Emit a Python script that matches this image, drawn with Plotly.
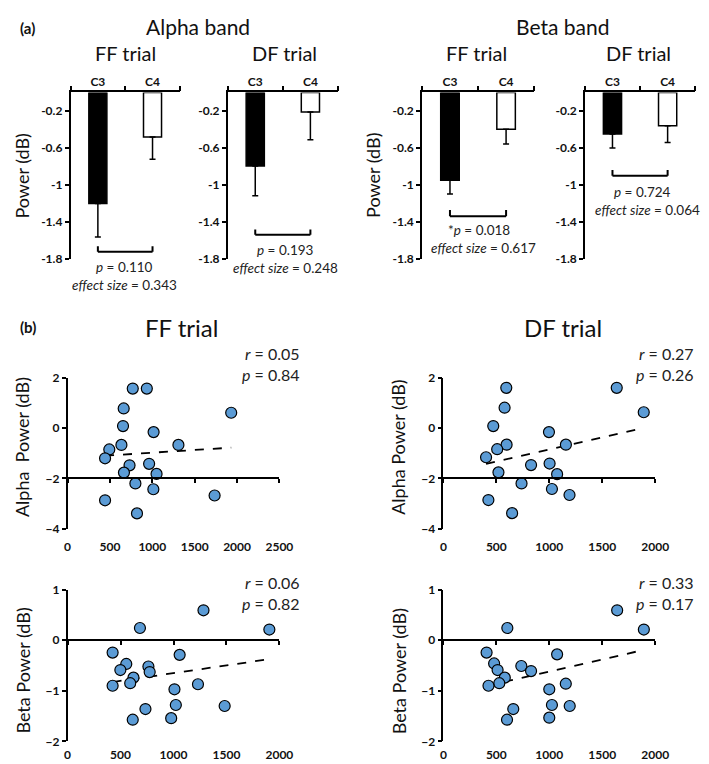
import numpy as np
import plotly.graph_objects as go

W, H = 709, 764
FONT = "Lato"

# ---------------- data: panel (a) bar charts ----------------
channels = ["C3", "C4"]
alpha_ff_mean = [-1.20, -0.48]
alpha_ff_err = [0.36, 0.24]
alpha_df_mean = [-0.795, -0.21]
alpha_df_err = [0.32, 0.30]
beta_ff_mean = [-0.947, -0.396]
beta_ff_err = [0.15, 0.16]
beta_df_mean = [-0.449, -0.36]
beta_df_err = [0.15, 0.18]
bar_tickvals = [-0.2, -0.6, -1, -1.4, -1.8]
bar_ticktext = ["-0.2", "-0.6", "-1", "-1.4", "-1.8"]
bracket_levels = [-1.72, -1.537, -1.336, -0.90]
bracket_tips = [-1.66, -1.48, -1.27, -0.837]
p_texts = ["<i>p</i> = 0.110", "<i>p</i> = 0.193", "*<i>p</i> = 0.018", "<i>p</i> = 0.724"]
es_texts = ["<i>effect size</i> = 0.343", "<i>effect size</i> = 0.248",
            "<i>effect size</i> = 0.617", "<i>effect size</i> = 0.064"]

# ---------------- data: panel (b) scatter plots ----------------
alpha_ff_x = [769, 935, 662, 1931, 654, 1015, 635, 1308, 492, 442, 731, 962, 665, 1050, 800, 1012, 442, 1735, 819]
alpha_ff_y = [1.57, 1.57, 0.78, 0.61, 0.08, -0.16, -0.67, -0.67, -0.85, -1.20, -1.48, -1.42, -1.77, -1.82, -2.20, -2.43, -2.87, -2.68, -3.39]
alpha_df_x = [594, 1637, 578, 1892, 471, 997, 597, 1157, 508, 403, 828, 1003, 520, 1074, 738, 1025, 425, 1191, 649]
alpha_df_y = [1.60, 1.60, 0.81, 0.63, 0.08, -0.16, -0.66, -0.66, -0.84, -1.16, -1.47, -1.41, -1.76, -1.83, -2.20, -2.42, -2.86, -2.66, -3.38]
beta_ff_x = [1283, 683, 1905, 425, 1058, 554, 763, 498, 775, 622, 591, 1231, 425, 1009, 1022, 1483, 735, 978, 615]
beta_ff_y = [0.59, 0.24, 0.21, -0.245, -0.29, -0.47, -0.52, -0.59, -0.63, -0.74, -0.85, -0.87, -0.90, -0.97, -1.28, -1.30, -1.36, -1.54, -1.57]
beta_df_x = [1641, 604, 1893, 408, 1074, 479, 736, 512, 828, 580, 528, 1156, 426, 1000, 1025, 1193, 660, 1000, 601]
beta_df_y = [0.59, 0.24, 0.21, -0.245, -0.28, -0.46, -0.51, -0.59, -0.61, -0.74, -0.85, -0.86, -0.90, -0.97, -1.28, -1.30, -1.36, -1.53, -1.57]
r_texts = ["<i>r</i> = 0.05<br><i>p</i> = 0.84", "<i>r</i> = 0.27<br><i>p</i> = 0.26",
           "<i>r</i> = 0.06<br><i>p</i> = 0.82", "<i>r</i> = 0.33<br><i>p</i> = 0.17"]
alpha_yticks = [2, 0, -2, -4]
beta_yticks = [1, 0, -1, -2]


def fx(px):
    return px / W


def fy(py):
    return 1 - py / H


fig = go.Figure()
layout = dict(width=W, height=H, margin=dict(l=0, r=0, t=0, b=0),
              paper_bgcolor="white", plot_bgcolor="white", showlegend=False,
              font=dict(family=FONT, color="black"))
annotations = []
shapes = []
TICKFONT = dict(size=12, family=FONT, weight="bold", color="#111")

# ---------- bar subplots ----------
bar_sets = [(alpha_ff_mean, alpha_ff_err), (alpha_df_mean, alpha_df_err),
            (beta_ff_mean, beta_ff_err), (beta_df_mean, beta_df_err)]
bar_xdom = [(61, 173), (222, 335), (421, 536), (588, 701)]
bar_ydom = (78, 248)
p_pos = [(116, 256), (281, 239), (479, 218), (647, 180)]
es_pos = [(116, 274), (281, 257), (484, 237), (652, 198)]

for i, (means, errs) in enumerate(bar_sets):
    n = i + 1
    xa, ya = ("x" if n == 1 else f"x{n}"), ("y" if n == 1 else f"y{n}")
    fig.add_trace(go.Bar(
        x=channels, y=means, width=0.33, xaxis=xa, yaxis=ya,
        marker=dict(color=["black", "white"], line=dict(color="black", width=1.5)),
        error_y=dict(type="data", symmetric=False, array=[0, 0], arrayminus=errs,
                     color="black", thickness=1.5, width=3),
    ))
    layout[f"xaxis{'' if n == 1 else n}"] = dict(
        domain=[fx(bar_xdom[i][0]), fx(bar_xdom[i][1])], anchor=ya, type="category",
        side="top", showline=True, linecolor="black", linewidth=1.5, ticks="outside",
        tickson="boundaries", ticklen=5, tickwidth=1.5, tickcolor="black",
        tickfont=TICKFONT, showgrid=False, zeroline=False, fixedrange=True)
    layout[f"yaxis{'' if n == 1 else n}"] = dict(
        domain=[fy(bar_ydom[1]), fy(bar_ydom[0])], anchor=xa, range=[-1.8, 0],
        tickvals=bar_tickvals, ticktext=bar_ticktext, showline=True, linecolor="black",
        linewidth=1.5, ticks="outside", ticklen=4, tickwidth=1.5, tickcolor="black",
        tickfont=TICKFONT, showgrid=False, zeroline=False, fixedrange=True)
    # significance bracket
    lvl, tip = bracket_levels[i], bracket_tips[i]
    for (x0, y0, x1, y1) in [(channels[0], lvl, channels[1], lvl),
                             (channels[0], lvl, channels[0], tip),
                             (channels[1], lvl, channels[1], tip)]:
        shapes.append(dict(type="line", xref=xa, yref=ya, x0=x0, y0=y0, x1=x1, y1=y1,
                           line=dict(color="black", width=2)))
    annotations.append(dict(text=p_texts[i], x=fx(p_pos[i][0]), y=fy(p_pos[i][1]),
                            xref="paper", yref="paper", showarrow=False,
                            xanchor="center", yanchor="middle",
                            font=dict(size=13.5, color="#222")))
    annotations.append(dict(text=es_texts[i], x=fx(es_pos[i][0]), y=fy(es_pos[i][1]),
                            xref="paper", yref="paper", showarrow=False,
                            xanchor="center", yanchor="middle",
                            font=dict(size=13.5, color="#222")))

# ---------- scatter subplots ----------
sc_sets = [(alpha_ff_x, alpha_ff_y), (alpha_df_x, alpha_df_y),
           (beta_ff_x, beta_ff_y), (beta_df_x, beta_df_y)]
sc_xdom = [(58, 275), (443, 660), (58, 275), (443, 660)]
sc_ydom = [(369, 523), (369, 523), (585, 740), (585, 740)]
sc_xrange = [[0, 2500], [0, 2000], [0, 2000], [0, 2000]]
sc_yrange = [[-4, 2], [-4, 2], [-2, 1], [-2, 1]]
sc_yticks = [alpha_yticks, alpha_yticks, beta_yticks, beta_yticks]
sc_cross = [-2, -2, 0, 0]
sc_standoff = [9, 9, 5, 5]
r_pos = [(298, 355), (702, 355), (298, 589), (702, 589)]

for i, (xs, ys) in enumerate(sc_sets):
    n = 5 + i
    m = 9 + i
    xa, ya, xo = f"x{n}", f"y{n}", f"x{m}"
    xs_a, ys_a = np.array(xs, float), np.array(ys, float)
    slope, icpt = np.polyfit(xs_a, ys_a, 1)
    tx = np.array([xs_a.min(), xs_a.max()])
    fig.add_trace(go.Scatter(x=tx, y=slope * tx + icpt, mode="lines", xaxis=xa, yaxis=ya,
                             line=dict(color="black", width=1.8, dash="dash"),
                             hoverinfo="skip"))
    fig.add_trace(go.Scatter(x=xs, y=ys, mode="markers", xaxis=xa, yaxis=ya,
                             marker=dict(size=11, color="#5b9bd5",
                                         line=dict(color="black", width=1.2))))
    fig.add_trace(go.Scatter(x=[None], y=[None], xaxis=xo, yaxis=ya, mode="markers",
                             hoverinfo="skip"))
    y0d, y1d = fy(sc_ydom[i][1]), fy(sc_ydom[i][0])
    lo, hi = sc_yrange[i]
    pos = y0d + (sc_cross[i] - lo) / (hi - lo) * (y1d - y0d)
    layout[f"xaxis{n}"] = dict(
        domain=[fx(sc_xdom[i][0]), fx(sc_xdom[i][1])], anchor=ya, range=sc_xrange[i],
        dtick=500, showline=False, ticks="", ticklabelstandoff=sc_standoff[i],
        tickfont=TICKFONT, showgrid=False, zeroline=False, fixedrange=True)
    layout[f"xaxis{m}"] = dict(
        overlaying=xa, anchor="free", position=pos, range=sc_xrange[i], dtick=500,
        showline=True, linecolor="black", linewidth=1.5, ticks="outside", ticklen=4,
        tickwidth=1.5, tickcolor="black", showticklabels=False,
        showgrid=False, zeroline=False, fixedrange=True)
    layout[f"yaxis{n}"] = dict(
        domain=[y0d, y1d], anchor=xa, range=sc_yrange[i], tickvals=sc_yticks[i],
        showline=True, linecolor="black", linewidth=1.5, ticks="outside", ticklen=4,
        tickwidth=1.5, tickcolor="black", tickfont=TICKFONT,
        showgrid=False, zeroline=False, fixedrange=True)
    annotations.append(dict(text=r_texts[i], x=fx(r_pos[i][0]), y=fy(r_pos[i][1]),
                            xref="paper", yref="paper", showarrow=False,
                            xanchor="right", yanchor="middle", align="right",
                            font=dict(size=16, color="#222")))

# ---------- titles / labels ----------
def label(text, x, y, size, bold=False, anchor="center", angle=0):
    annotations.append(dict(text=f"<b>{text}</b>" if bold else text,
                            x=fx(x), y=fy(y), xref="paper", yref="paper",
                            showarrow=False, xanchor=anchor, yanchor="middle",
                            textangle=angle, font=dict(size=size, color="#111")))


label("(a)", 7, 12, 15, bold=True, anchor="left")
label("Alpha band", 192, 11, 21)
label("Beta band", 565, 11, 21)
label("FF trial", 117, 38, 20)
label("DF trial", 280, 38, 20)
label("FF trial", 477, 38, 20)
label("DF trial", 643, 38, 20)
label("Power (dB)", 11, 163, 18, angle=-90)
label("Power (dB)", 371, 163, 18, angle=-90)
label("(b)", 7, 317, 15, bold=True, anchor="left")
label("FF trial", 175, 318, 24)
label("DF trial", 566, 318, 24)
label("Alpha  Power (dB)", 12, 440, 18, angle=-90)
label("Alpha Power (dB)", 397, 440, 18, angle=-90)
label("Beta Power (dB)", 12, 668, 18, angle=-90)
label("Beta Power (dB)", 397, 668, 18, angle=-90)

layout["annotations"] = annotations
layout["shapes"] = shapes
fig.update_layout(**layout)
fig.write_html("out.html")
